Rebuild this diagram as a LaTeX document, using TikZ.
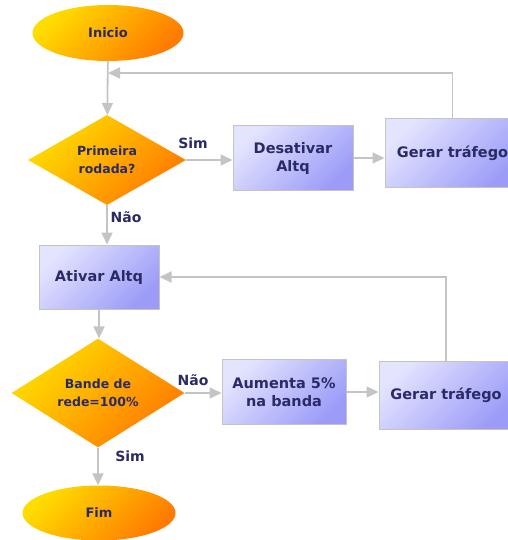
\documentclass[tikz,border=0pt]{standalone}
\usepackage{fontspec}
\setmainfont{DejaVu Sans}
\usetikzlibrary{shapes.geometric,arrows.meta}
\definecolor{txt}{HTML}{2A2A66}
\definecolor{ylw}{HTML}{FFDD00}
\definecolor{org}{HTML}{FF7A00}
\definecolor{lav1}{HTML}{E4E4FF}
\definecolor{lav2}{HTML}{9C9CF8}
\definecolor{ln}{HTML}{C4C4C4}
\begin{document}
\begin{tikzpicture}[x=1pt,y=-1pt,
  term/.style={ellipse, inner sep=0, top color=ylw, bottom color=org, shading angle=45,
    font=\fontsize{13}{18}\selectfont\bfseries, text=txt},
  dec/.style={diamond, inner sep=0, top color=ylw, bottom color=org, shading angle=45,
    align=center, font=\fontsize{12.5}{18}\selectfont\bfseries, text=txt},
  proc/.style={rectangle, draw=ln, line width=1, top color=lav1, bottom color=lav2, shading angle=45,
    align=center, inner sep=0, font=\fontsize{14.5}{18}\selectfont\bfseries, text=txt},
  conn/.style={draw=ln, line width=1.8, -{Triangle[length=12,width=11]}},
  lbl/.style={font=\fontsize{14}{18}\selectfont\bfseries, text=txt, inner sep=0}]
\useasboundingbox (0,0) rectangle (507,540);
\node[term, minimum width=151, minimum height=56] (ini) at (108,33) {Inicio};
\node[dec, minimum width=158, minimum height=90] (d1) at (107,160) {Primeira\\rodada?};
\node[proc, minimum width=120, minimum height=65] (des) at (293,158) {Desativar\\Altq};
\node[proc, minimum width=135, minimum height=68] (g1) at (452.5,153) {Gerar tráfego};
\node[proc, minimum width=120, minimum height=64] (at) at (99,277) {Ativar Altq};
\node[dec, minimum width=173, minimum height=100] (d2) at (98,393) {Bande de\\rede=100\%};
\node[proc, minimum width=124, minimum height=65] (au) at (284,392) {Aumenta 5\%\\na banda};
\node[proc, minimum width=134, minimum height=68] (g2) at (446,395) {Gerar tráfego};
\node[term, minimum width=153, minimum height=55] (fim) at (99,513) {Fim};
\node[lbl] (l1) at (193,143) {Sim};
\node[lbl] (l2) at (126,217) {Não};
\node[lbl] (l3) at (193,380) {Não};
\node[lbl] (l4) at (130,456) {Sim};
\coordinate (j1) at (108,73);
\draw[conn] (ini) -- (d1);
\draw[conn] (g1.north) |- (j1);
\draw[conn] (d1.east) -- (d1.east -| des.west);
\draw[conn] (des.east) -- (des.east -| g1.west);
\draw[conn] (d1.south) -- (d1.south |- at.north);
\draw[conn] (at.south) -- (at.south |- d2.north);
\draw[conn] (d2.east) -- (d2.east -| au.west);
\draw[conn] (au.east) -- (au.east -| g2.west);
\draw[conn] (g2.north) |- (at.east);
\draw[conn] (d2.south) -- (d2.south |- fim.north);
\end{tikzpicture}
\end{document}
